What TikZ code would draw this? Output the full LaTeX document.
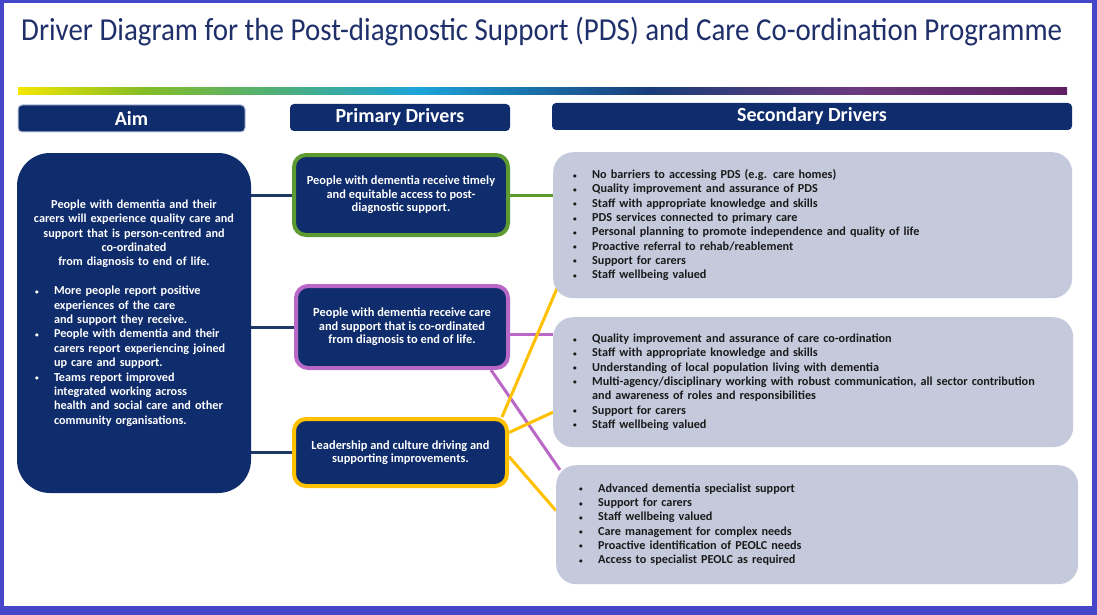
\documentclass[tikz,border=0pt]{standalone}
\usepackage{fontspec}
\usepackage{graphicx}
\setmainfont{Carlito}
\usetikzlibrary{backgrounds}
\definecolor{slideblue}{HTML}{4646C8}
\definecolor{titleblue}{HTML}{1F2F6A}
\definecolor{navybox}{HTML}{0F2C6C}
\definecolor{aimedge}{HTML}{B8C2D8}
\definecolor{linknavy}{HTML}{1F3864}
\definecolor{drvgreen}{HTML}{5E9A32}
\definecolor{drvpurple}{HTML}{BA68C8}
\definecolor{drvyellow}{HTML}{FFC000}
\definecolor{secfill}{HTML}{C4CADB}
\definecolor{sectext}{HTML}{1A1A1A}
\definecolor{barA}{HTML}{F4E600}
\definecolor{barB}{HTML}{84BC26}
\definecolor{barC}{HTML}{4DAF7A}
\definecolor{barD}{HTML}{1DA5DA}
\definecolor{barE}{HTML}{173D7A}
\definecolor{barF}{HTML}{6C3A7E}
\definecolor{barG}{HTML}{5E2060}
\pgfdeclarehorizontalshading{rainbowbar}{100bp}{color(0bp)=(barA); color(25bp)=(barA); color(31bp)=(barB); color(37.5bp)=(barC); color(44bp)=(barD); color(55bp)=(barE); color(65bp)=(barF); color(75bp)=(barG); color(100bp)=(barG)}
\newcommand{\bpt}{\makebox[19pt][l]{\raisebox{0.5pt}{\scalebox{0.6}{\textbullet}}}}
\newcommand{\bgap}{\hspace*{19pt}}
\newcommand{\abpt}{\hspace*{6pt}\bpt}
\newcommand{\agap}{\hspace*{25pt}}

\begin{document}
\begin{tikzpicture}[x=1pt, y=-1pt,
  head/.style={fill=navybox, rounded corners=4pt, text=white, font=\fontsize{20}{20}\selectfont\bfseries, inner sep=0, minimum height=27pt},
  primary/.style={fill=navybox, rounded corners=12pt, line width=4pt, text=white, font=\fontsize{12.4}{13.4}\selectfont\bfseries, align=center, inner sep=0},
  secondary/.style={fill=secfill, rounded corners=20pt, text=sectext, font=\fontsize{12.2}{14.3}\selectfont\bfseries, align=left, inner xsep=20pt, inner ysep=0, anchor=north west},
  link/.style={line width=3pt}]
\useasboundingbox (0,0) rectangle (1097,615);
\node[anchor=base west, inner sep=0, text=titleblue] (title) at (21,41) {\resizebox{1041pt}{\height}{\fontsize{32}{32}\selectfont Driver Diagram for the Post-diagnostic Support (PDS) and Care Co-ordination Programme}};
\shade[shading=rainbowbar] (18,88) rectangle (1067,95);
\node[head, draw=aimedge, line width=1pt, minimum width=227pt] (aimhead) at (131.5,118.5) {Aim};
\node[head, minimum width=220pt] (primhead) at (400,117.5) {Primary Drivers};
\node[head, minimum width=520pt] (sechead) at (812,116.5) {Secondary Drivers};
\node[fill=navybox, rounded corners=33pt, text=white, font=\fontsize{12.2}{14.4}\selectfont\bfseries, align=left, text width=210pt, inner xsep=12pt, inner ysep=0, minimum height=340pt] (aim) at (134,323) {{\centering People with dementia and their\\ carers will experience quality care and\\ support that is person-centred and\\ co-ordinated\\ from diagnosis to end of life.\par}\vspace{14.4pt}
\abpt More people report positive\\ \agap experiences of the care\\ \agap and support they receive.\\ \abpt People with dementia and their\\ \agap carers report experiencing joined\\ \agap up care and support.\\ \abpt Teams report improved\\ \agap integrated working across\\ \agap health and social care and other\\ \agap community organisations.\par\vspace{20pt}};
\node[primary, draw=drvgreen, minimum width=214pt, minimum height=80pt] (timely) at (401,195) {People with dementia receive timely\\ and equitable access to post-\\ diagnostic support.};
\node[primary, draw=drvpurple, minimum width=212pt, minimum height=82pt] (coord) at (402,327) {People with dementia receive care\\ and support that is co-ordinated\\ from diagnosis to end of life.};
\node[primary, draw=drvyellow, minimum width=213pt, minimum height=67pt] (lead) at (400.5,452.5) {Leadership and culture driving and\\ supporting improvements.};
\node[secondary, minimum width=519pt, minimum height=146pt, text width=479pt] (pds) at (553,152) {\bpt No barriers to accessing PDS (e.g. care homes)\\ \bpt Quality improvement and assurance of PDS\\ \bpt Staff with appropriate knowledge and skills\\ \bpt PDS services connected to primary care\\ \bpt Personal planning to promote independence and quality of life\\ \bpt Proactive referral to rehab/reablement\\ \bpt Support for carers\\ \bpt Staff wellbeing valued};
\node[secondary, minimum width=520pt, minimum height=130pt, text width=480pt] (carecoord) at (553,317) {\bpt Quality improvement and assurance of care co-ordination\\ \bpt Staff with appropriate knowledge and skills\\ \bpt Understanding of local population living with dementia\\ \bpt Multi-agency/disciplinary working with robust communication, all sector contribution\\ \bgap and awareness of roles and responsibilities\\ \bpt Support for carers\\ \bpt Staff wellbeing valued};
\node[secondary, inner xsep=23pt, minimum width=522pt, minimum height=119pt, text width=476pt] (advanced) at (556,465) {\bpt Advanced dementia specialist support\\ \bpt Support for carers\\ \bpt Staff wellbeing valued\\ \bpt Care management for complex needs\\ \bpt Proactive identification of PEOLC needs\\ \bpt Access to specialist PEOLC as required};
\begin{pgfonlayer}{background}
\fill[slideblue] (0,0) rectangle (1097,615);
\fill[white] (4,3) rectangle (1092,606);
\draw[link, linknavy] (timely.west) -- (timely.west -| aim.east);
\draw[link, linknavy] (coord.west) -- (coord.west -| aim.east);
\draw[link, linknavy] (lead.west) -- (lead.west -| aim.east);
\draw[link, drvgreen] (timely.east) -- (timely.east -| pds.west);
\draw[link, drvpurple] ([yshift=-7pt]coord.east) -- ([yshift=-7pt]coord.east -| carecoord.west);
\draw[link, drvpurple] ([xshift=-19pt]coord.south east) -- ([xshift=4pt,yshift=-5pt]advanced.north west);
\draw[link, drvyellow] ([xshift=-7pt]lead.north east) -- ([xshift=4pt,yshift=10pt]pds.south west);
\draw[link, drvyellow] ([yshift=20pt]lead.east) -- ([yshift=-30pt]carecoord.west);
\draw[link, drvyellow] ([yshift=-4pt]lead.east) -- ([yshift=14pt]advanced.west);
\end{pgfonlayer}
\end{tikzpicture}
\end{document}
